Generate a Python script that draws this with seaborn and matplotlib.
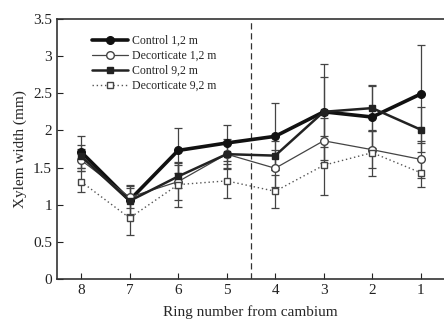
import matplotlib
matplotlib.use("Agg")
import matplotlib.pyplot as plt
import seaborn as sns
import pandas as pd

rings = [8, 7, 6, 5, 4, 3, 2, 1]

control_12 = [1.71, 1.06, 1.73, 1.83, 1.92, 2.25, 2.18, 2.49]
control_12_se = [0.22, 0.20, 0.30, 0.24, 0.45, 0.47, 0.42, 0.66]

decort_12 = [1.60, 1.10, 1.31, 1.68, 1.49, 1.86, 1.74, 1.61]
decort_12_se = [0.15, 0.15, 0.25, 0.20, 0.25, 0.30, 0.25, 0.25]

control_92 = [1.65, 1.05, 1.38, 1.68, 1.66, 2.25, 2.30, 2.01]
control_92_se = [0.15, 0.18, 0.15, 0.18, 0.20, 0.65, 0.31, 0.30]

decort_92 = [1.31, 0.82, 1.27, 1.32, 1.18, 1.53, 1.70, 1.43]
decort_92_se = [0.14, 0.23, 0.30, 0.23, 0.22, 0.40, 0.31, 0.19]

labels = ["Control 1,2 m", "Decorticate 1,2 m", "Control 9,2 m", "Decorticate 9,2 m"]

sns.set_style("ticks")
plt.rcParams["font.family"] = ["Liberation Serif", "DejaVu Serif"]

fig = plt.figure(figsize=(4.44, 3.27), dpi=100)
ax = fig.add_axes([0.128, 0.147, 0.872, 0.795])

series = [
    (control_12, control_12_se, dict(color="#111111", lw=2.6, ls="-", marker="o", ms=5.5, mfc="#111111", mec="#111111")),
    (decort_12, decort_12_se, dict(color="#444444", lw=0.9, ls="-", marker="o", ms=5.5, mfc="white", mec="#444444")),
    (control_92, control_92_se, dict(color="#222222", lw=1.8, ls="-", marker="s", ms=4.5, mfc="#222222", mec="#222222")),
    (decort_92, decort_92_se, dict(color="#555555", lw=1.0, ls=(0, (1, 2)), marker="s", ms=5, mfc="white", mec="#444444")),
]

for (vals, se, st), lab in zip(series, labels):
    df = pd.DataFrame({"ring": rings, "width": vals})
    ax.errorbar(rings, vals, yerr=se, fmt="none", ecolor="#444444",
                elinewidth=0.9, capsize=3, capthick=0.9, zorder=1)
    sns.lineplot(data=df, x="ring", y="width", ax=ax, label=lab,
                 color=st["color"], linewidth=st["lw"], linestyle=st["ls"],
                 marker=st["marker"], markersize=st["ms"],
                 markerfacecolor=st["mfc"], markeredgecolor=st["mec"],
                 markeredgewidth=1.0, sort=False, zorder=3)

ax.axvline(4.5, color="#333333", lw=0.9, ls=(0, (5, 3)), zorder=0)

ax.set_xlim(8.5, 0.52)
ax.set_ylim(0, 3.5)
ax.set_xticks(rings)
ax.set_xticklabels([str(r) for r in rings])
ax.set_yticks([0, 0.5, 1, 1.5, 2, 2.5, 3, 3.5])
ax.set_yticklabels(["0", "0.5", "1", "1.5", "2", "2.5", "3", "3.5"])
ax.tick_params(direction="in", length=4, width=0.8, labelsize=11, colors="#222222")
for s in ax.spines.values():
    s.set_linewidth(1.2)
    s.set_color("#333333")
ax.spines["right"].set_visible(False)

ax.set_xlabel("Ring number from cambium", fontsize=11, labelpad=6)
ax.set_ylabel("Xylem width (mm)", fontsize=11, labelpad=4)

leg = ax.legend(loc="upper left", bbox_to_anchor=(0.07, 0.97), frameon=False,
                fontsize=8.5, handlelength=3.0, handletextpad=0.4,
                labelspacing=0.25, borderaxespad=0.3)

fig.savefig("out.png", dpi=100)
